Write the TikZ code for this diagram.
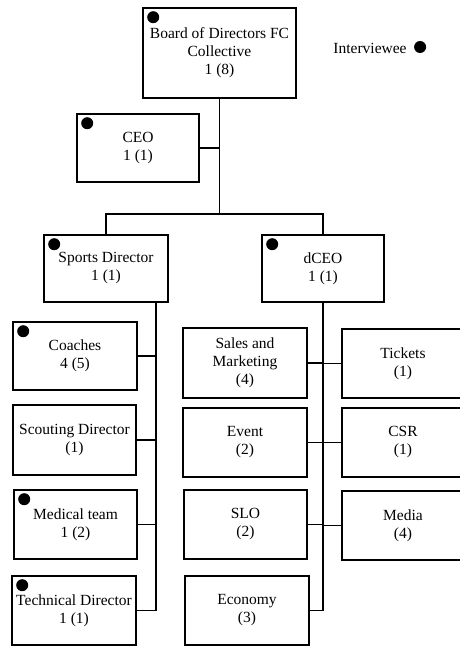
\documentclass[tikz,border=0pt]{standalone}
\usepackage{fontspec}
\setmainfont{Liberation Serif}
\usetikzlibrary{calc}

\tikzset{
  unit/.style={draw, line width=1.6pt, align=center, inner sep=1pt,
    minimum width=123pt, minimum height=69pt, font=\fontsize{15.5}{18}\selectfont},
  link/.style={line width=1.6pt},
}
% Dot marking an interviewed unit
\newcommand{\interviewed}[1]{\fill (#1.north west) ++(11,10) circle [radius=6pt];}

\begin{document}
\begin{tikzpicture}[x=1pt, y=-1pt]
\useasboundingbox (0,0) rectangle (459,646);
% Top of the club
\node[unit, minimum width=153pt, minimum height=90pt] (board) at (219.5,53) {Board of Directors FC\\Collective\\1 (8)};
\node[unit, minimum width=122pt, minimum height=68pt] (ceo) at (138,148) {CEO\\1 (1)};
\node[unit, minimum width=124pt, minimum height=67pt] (sports) at (106,268.5) {Sports Director\\1 (1)};
\node[unit, minimum width=122pt, minimum height=67pt] (dceo) at (323,268.5) {dCEO\\1 (1)};
% Sports side
\node[unit, minimum width=124pt, minimum height=68pt] (coaches) at (75,356) {Coaches\\4 (5)};
\node[unit, minimum height=70pt] (scouting) at (74.5,440) {Scouting Director\\(1)};
\node[unit] (medical) at (75.5,524.5) {Medical team\\1 (2)};
\node[unit, minimum width=124pt] (technical) at (74,610.5) {Technical Director\\1 (1)};
% Business side, left column
\node[unit, minimum width=124pt, minimum height=70pt] (sales) at (245,363) {Sales and\\Marketing\\(4)};
\node[unit, minimum width=124pt] (event) at (245,442.5) {Event\\(2)};
\node[unit] (slo) at (245.5,524.5) {SLO\\(2)};
\node[unit, minimum width=124pt] (economy) at (247,610.5) {Economy\\(3)};
% Business side, right column (cut at the page edge)
\node[unit, minimum width=122pt] (tickets) at (403,363.5) {Tickets\\(1)};
\node[unit, minimum width=122pt] (csr) at (403,442.5) {CSR\\(1)};
\node[unit, minimum width=122pt] (media) at (403,525.5) {Media\\(4)};
% Legend
\node[font=\fontsize{15.5}{18}\selectfont] (legend) at (370,48) {Interviewee};
\fill ($(legend.east)+(10,-1)$) circle [radius=6pt];
% Dots for interviewed units
\foreach \n in {board,ceo,sports,dceo,coaches,medical,technical}
  \interviewed{\n};
% Main line and split
\coordinate (split) at (board.south |- 0,214);
\draw[link] (board.south) -- (split);
\draw[link] (ceo.east) -- (ceo.east -| board.south);
\draw[link] (sports.north) |- (split) -| (dceo.north);
% Sports Director line
\coordinate (sbus) at (156,0 |- sports.south);
\draw[link] (sbus) |- (technical.east);
\foreach \n in {coaches,scouting,medical}
  \draw[link] (\n.east) -- (\n.east -| sbus);
% dCEO line
\draw[link] (dceo.south) |- (economy.east);
\foreach \n in {sales,event,slo}
  \draw[link] (\n.east) -- (\n.east -| dceo.south);
\foreach \n in {tickets,csr,media}
  \draw[link] (\n.west) -- (\n.west -| dceo.south);
\end{tikzpicture}
\end{document}
